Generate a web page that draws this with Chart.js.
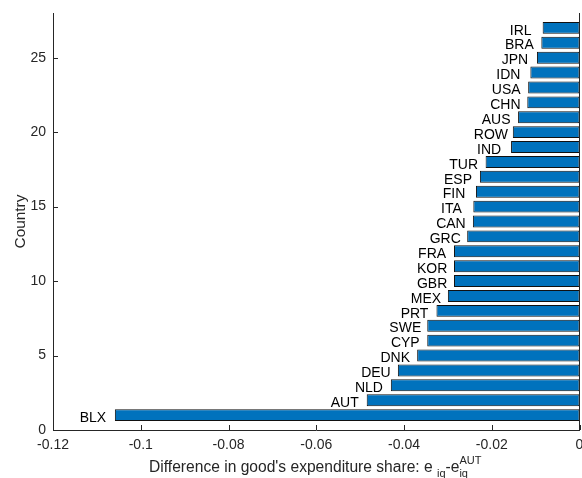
<!DOCTYPE html>
<html>
<head>
<meta charset="utf-8">
<script src="https://cdn.jsdelivr.net/npm/chart.js@4.4.1/dist/chart.umd.min.js"></script>
<style>
  html, body { margin: 0; padding: 0; background: #fff; }
</style>
</head>
<body>
<canvas id="myChart" width="582" height="478"></canvas>
<script>
// bottom (y = 1) to top (y = 27)
const countries = ["BLX", "AUT", "NLD", "DEU", "DNK", "CYP", "SWE", "PRT", "MEX",
  "GBR", "KOR", "FRA", "GRC", "CAN", "ITA", "FIN", "ESP", "TUR", "IND", "ROW",
  "AUS", "CHN", "USA", "IDN", "JPN", "BRA", "IRL"];
const shareDiff = [-0.1059, -0.0485, -0.0430, -0.0414, -0.0370, -0.0347, -0.0347,
  -0.0326, -0.0300, -0.0286, -0.0286, -0.0286, -0.0256, -0.0243, -0.0242, -0.0236,
  -0.0227, -0.0214, -0.0156, -0.0152, -0.0140, -0.0119, -0.0117, -0.0112, -0.0097,
  -0.0087, -0.0084];
const xTicks = [-0.12, -0.1, -0.08, -0.06, -0.04, -0.02, 0];
const yTicks = [0, 5, 10, 15, 20, 25];
const labelShift = 0.005; // country names are centred this far left of the bar end

const axisColor = "#262626";
const fontFam = "'Liberation Sans', Arial, Helvetica, sans-serif";

const drawXTitle = (ctx, cx, baseY) => {
  const big = "15.6px " + fontFam;
  const small = "11px " + fontFam;
  const main = "Difference in good's expenditure share: e ";
  ctx.font = big;
  const w1 = ctx.measureText(main).width;
  const w3 = ctx.measureText("-e").width;
  ctx.font = small;
  const w2 = ctx.measureText("iq").width;
  const w4 = Math.max(w2, ctx.measureText("AUT").width);
  let x = cx - (w1 + w2 + w3 + w4) / 2;
  ctx.textAlign = "left";
  ctx.textBaseline = "alphabetic";
  ctx.font = big;
  ctx.fillText(main, x, baseY);
  x += w1;
  ctx.font = small;
  ctx.fillText("iq", x, baseY + 5);
  x += w2;
  ctx.font = big;
  ctx.fillText("-e", x, baseY);
  x += w3;
  ctx.font = small;
  ctx.fillText("iq", x, baseY + 5);
  ctx.fillText("AUT", x, baseY - 8.5);
};

const annotate = {
  id: "annotate",
  afterDatasetsDraw(chart) {
    const ctx = chart.ctx;
    const xs = chart.scales.x;
    const ys = chart.scales.y;
    const area = chart.chartArea;
    ctx.save();

    // baseline at zero
    ctx.strokeStyle = axisColor;
    ctx.lineWidth = 1;
    const x0 = xs.getPixelForValue(0);
    ctx.beginPath();
    ctx.moveTo(x0, area.top);
    ctx.lineTo(x0, area.bottom);
    ctx.stroke();

    // inward ticks
    ctx.beginPath();
    yTicks.forEach((v) => {
      const py = Math.round(ys.getPixelForValue(v)) + 0.5;
      ctx.moveTo(area.left, py);
      ctx.lineTo(area.left + 5, py);
    });
    xTicks.forEach((v) => {
      const px = Math.round(xs.getPixelForValue(v)) + 0.5;
      ctx.moveTo(px, area.bottom);
      ctx.lineTo(px, area.bottom - 5);
    });
    ctx.stroke();

    // country names
    ctx.fillStyle = "#000";
    ctx.font = "14px " + fontFam;
    ctx.textAlign = "center";
    ctx.textBaseline = "alphabetic";
    const meta = chart.getDatasetMeta(0);
    meta.data.forEach((bar, i) => {
      const px = xs.getPixelForValue(shareDiff[i] - labelShift);
      ctx.fillText(countries[i], px, bar.y + 6.7);
    });

    // axis titles
    ctx.fillStyle = axisColor;
    drawXTitle(ctx, (area.left + area.right) / 2 - 1, 472);
    ctx.translate(24.5, (area.top + area.bottom) / 2);
    ctx.rotate(-Math.PI / 2);
    ctx.font = "15.4px " + fontFam;
    ctx.textAlign = "center";
    ctx.fillText("Country", 0, 0);
    ctx.restore();
  },
};

const ctx = document.getElementById("myChart").getContext("2d");
const myChart = new Chart(ctx, {
  type: "bar",
  data: {
    datasets: [{
      data: shareDiff.map((v, i) => ({x: v, y: i + 1})),
      backgroundColor: "#0072BD",
      borderColor: "#111111",
      borderWidth: 1,
      borderSkipped: false,
      barPercentage: 0.8,
      categoryPercentage: 1,
    }],
  },
  options: {
    indexAxis: "y",
    responsive: false,
    animation: false,
    events: [],
    layout: {padding: {top: 13, right: 2.5, left: 0, bottom: 0}},
    plugins: {legend: {display: false}, tooltip: {enabled: false}},
    scales: {
      x: {
        type: "linear",
        min: -0.12,
        max: 0,
        afterBuildTicks: (s) => {
          s.ticks = xTicks.map((v) => ({value: v}));
        },
        afterFit: (s) => {
          s.height = 48;
          s.paddingLeft = 0;
          s.paddingRight = 0;
        },
        grid: {display: false, drawTicks: false},
        border: {display: true, color: axisColor, width: 1},
        ticks: {
          padding: 7,
          maxRotation: 0,
          color: axisColor,
          font: {size: 14, family: fontFam},
          callback: (v) => String(+Number(v).toFixed(4)),
        },
      },
      y: {
        type: "linear",
        min: 0,
        max: 28,
        offset: false,
        afterBuildTicks: (s) => {
          s.ticks = yTicks.map((v) => ({value: v}));
        },
        afterFit: (s) => {
          s.width = 53;
          s.paddingTop = 0;
          s.paddingBottom = 0;
        },
        grid: {display: false, drawTicks: false, offset: false},
        border: {display: true, color: axisColor, width: 1},
        ticks: {
          padding: 7,
          color: axisColor,
          font: {size: 14, family: fontFam},
        },
      },
    },
  },
  plugins: [annotate],
});
</script>
</body>
</html>
